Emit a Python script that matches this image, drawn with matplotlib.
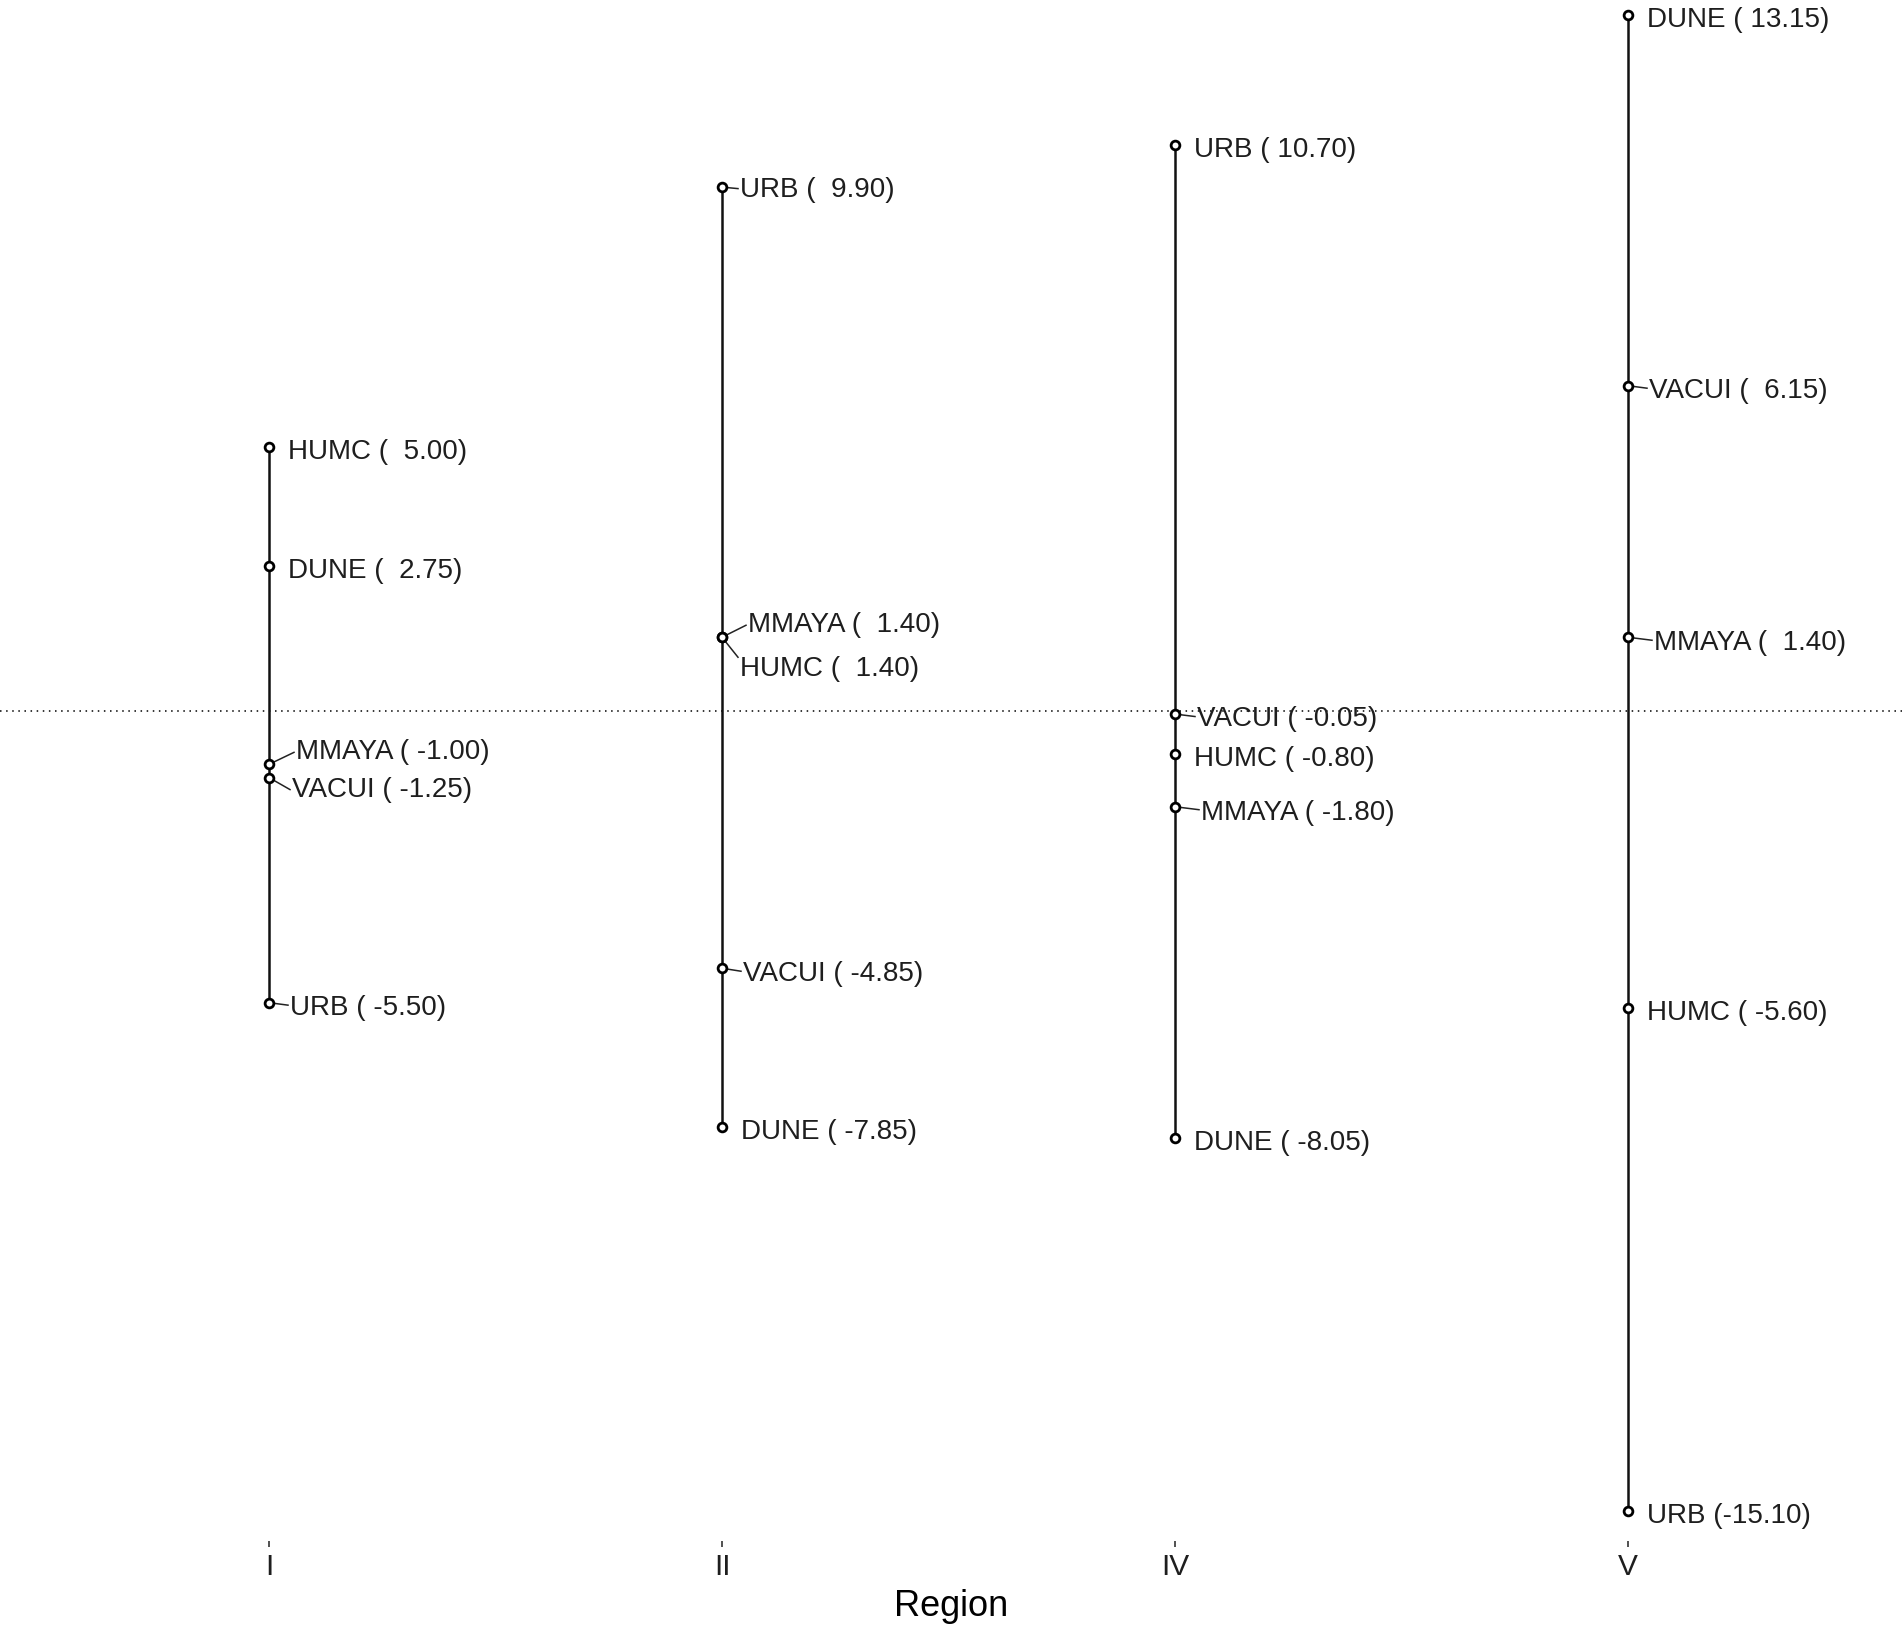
import numpy as np
import matplotlib.pyplot as plt

# region means by group
regions = ['I', 'II', 'IV', 'V']
groups = ['DUNE', 'HUMC', 'MMAYA', 'URB', 'VACUI']
vals_I = [2.75, 5.00, -1.00, -5.50, -1.25]
vals_II = [-7.85, 1.40, 1.40, 9.90, -4.85]
vals_IV = [-8.05, -0.80, -1.80, 10.70, -0.05]
vals_V = [13.15, -5.60, 1.40, -15.10, 6.15]
all_vals = [vals_I, vals_II, vals_IV, vals_V]

# label nudges in pixels (dx, dy down, draw segment) where labels were pushed apart
nudge = {
    ('I', 'MMAYA'): (27, -12, True),
    ('I', 'VACUI'): (23, 12, True),
    ('I', 'URB'): (21, 5, True),
    ('II', 'URB'): (18, 3, True),
    ('II', 'MMAYA'): (26, -12, True),
    ('II', 'HUMC'): (18, 32, True),
    ('II', 'VACUI'): (21, 6, True),
    ('IV', 'VACUI'): (22, 5, True),
    ('IV', 'MMAYA'): (26, 6, True),
    ('V', 'VACUI'): (21, 5, True),
    ('V', 'MMAYA'): (26, 6, True),
}

plt.rcParams['font.family'] = ['Liberation Sans', 'DejaVu Sans']

fig = plt.figure(figsize=(19.02, 16.34), dpi=100)
ax = fig.add_axes([0, 1 - 1541 / 1634, 1, 1541 / 1634])
ax.set_xlim(1 - 269 / 453, 4 + (1902 - 1628) / 453)
ax.set_ylim((711.2 - 1541) / 52.97, 13.15 + 15 / 52.97)

ax.axhline(0, color='black', linestyle=(0, (1, 3)), linewidth=1.1, zorder=1)

to_px = ax.transData
to_data = ax.transData.inverted()

for i, (reg, vals) in enumerate(zip(regions, all_vals)):
    x = i + 1
    ax.plot([x, x], [min(vals), max(vals)], color='#111111', linewidth=1.8, zorder=2)
    ax.plot([x] * len(vals), vals, 'o', markersize=6.3, markerfacecolor='white',
            markeredgecolor='black', markeredgewidth=2.0, zorder=3)
    for g, v in zip(groups, vals):
        dx, dy, seg = nudge.get((reg, g), (19, 5, False))
        ax.annotate(f'{g} ({v:6.2f})', xy=(x, v), xytext=(dx, -dy),
                    textcoords='offset pixels', ha='left', va='center',
                    fontsize=20, color='#1e1e1e', zorder=4)
        if seg:
            px, py = to_px.transform((x, v))
            h = max(0, abs(dy) - 20)
            ey = py - dy + np.clip(dy, -h, h)
            if abs(dy) < 8:
                ey = py - dy / 2
            x1, y1 = to_data.transform((px + dx - 2, ey))
            ax.plot([x, x1], [v, y1], color='#222222', linewidth=1.1, zorder=2.5)

ax.set_xticks(range(1, len(regions) + 1))
ax.set_xticklabels(regions, fontsize=21.5, color='#1e1e1e')
ax.set_yticks([])
ax.tick_params(axis='x', length=4.5, width=1.2, color='#333333', pad=4)
for s in ax.spines.values():
    s.set_visible(False)
ax.set_xlabel('Region', fontsize=26, color='black', labelpad=6)

fig.savefig('out.png', dpi=100)
